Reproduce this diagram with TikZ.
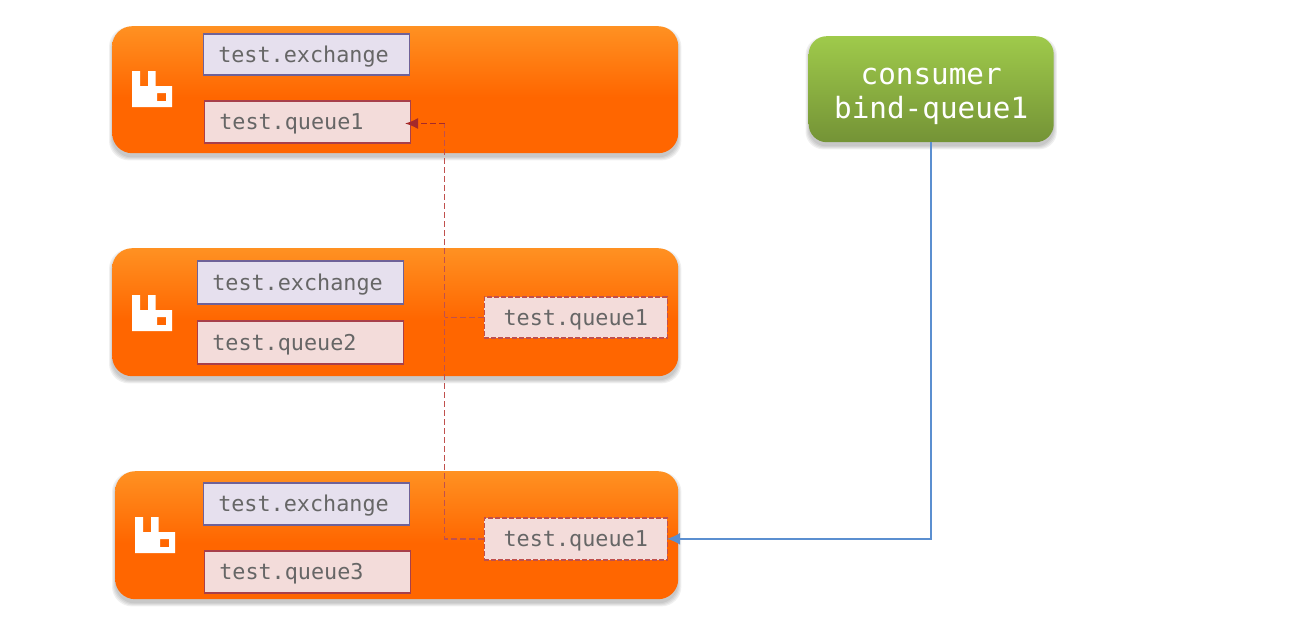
\documentclass[tikz,border=0pt]{standalone}
\usepackage{fontspec}
\setmonofont{DejaVu Sans Mono}
\usetikzlibrary{arrows.meta,backgrounds,calc}
\definecolor{ordark}{HTML}{FF6600}
\definecolor{orlight}{HTML}{FF9122}
\definecolor{grdark}{HTML}{749336}
\definecolor{grlight}{HTML}{9FCA4B}
\pgfdeclareverticalshading{orangeg}{100bp}{color(0bp)=(ordark); color(25bp)=(ordark); color(47bp)=(ordark); color(75bp)=(orlight); color(100bp)=(orlight)}
\pgfdeclareverticalshading{greeng}{100bp}{color(0bp)=(grdark); color(25bp)=(grdark); color(75bp)=(grlight); color(100bp)=(grlight)}
\definecolor{txtgray}{HTML}{666666}
\definecolor{exfill}{HTML}{E6E0EE}
\definecolor{exline}{HTML}{6F6298}
\definecolor{qfill}{HTML}{F3DCDA}
\definecolor{qline}{HTML}{A8404A}
\definecolor{dashline}{HTML}{C0504D}
\definecolor{redtip}{HTML}{A52A2A}
\definecolor{bluel}{HTML}{5B8FD0}
\tikzset{
  panel/.style={rectangle,rounded corners=20pt,shading=orangeg,draw=none,inner sep=0pt,text width=#1},
  labelbox/.style={rectangle,inner ysep=0pt,inner xsep=15pt,text width=176pt,align=left,
    text height=20pt,text depth=4.5pt,
    font=\ttfamily\fontsize{21.8}{26}\selectfont,anchor=north west},
  exbox/.style={labelbox,color=exline,draw,fill=exfill,text=txtgray,line width=1.5pt},
  qbox/.style={labelbox,color=qline,draw,fill=qfill,text=txtgray,line width=1.5pt},
  dashbox/.style={labelbox,inner xsep=0pt,text width=183pt,align=center,color=dashline,draw,fill=qfill,text=txtgray,line width=1.6pt,dash pattern=on 5pt off 2pt},
  consumerbox/.style={rectangle,rounded corners=18pt,shading=greeng,draw=none,align=center,text=white,inner sep=0pt,
    font=\ttfamily\fontsize{29.3}{33.5}\selectfont,anchor=north west},
  redlink/.style={color=dashline,line width=1.6pt,dash pattern=on 6pt off 3pt},
  bluelink/.style={color=bluel,line width=1.6pt},
  rabbit/.style={fill=white,even odd rule},
}
\newcommand{\rabbiticon}[2]{%
  \fill[rabbit,shift={(#1pt,-#2pt)}]
    (0,0) -- (8,0) -- (8,15) -- (16,15) -- (16,0) -- (23.5,0) -- (23.5,15) -- (40,15) -- (40,36) -- (0,36) -- cycle
    (25,22) rectangle (34,30);}
\begin{document}
\begin{tikzpicture}[x=1pt,y=-1pt]
\useasboundingbox (0,0) rectangle (1290,640);
% panels
\node[panel=566pt,minimum height=127pt,anchor=north west] (p1) at (112,26) {};
\node[panel=566pt,minimum height=128pt,anchor=north west] (p2) at (112,248) {};
\node[panel=563pt,minimum height=128pt,anchor=north west] (p3) at (115,471) {};
% rabbit logos
\rabbiticon{132}{71}
\rabbiticon{132}{295}
\rabbiticon{135}{517}
% boxes
\node[exbox,minimum height=41pt] (e1) at (202.5,33) {test.exchange};
\node[qbox,minimum height=42pt] (q1) at (203.5,100) {test.queue1};
\node[exbox,minimum height=43pt] (e2) at (196.5,260) {test.exchange};
\node[qbox,minimum height=43pt] (q2) at (196.5,320) {test.queue2};
\node[dashbox,minimum height=41pt] (d2) at (483.5,296) {test.queue1};
\node[exbox,minimum height=42pt] (e3) at (202.5,482) {test.exchange};
\node[qbox,minimum height=42pt] (q3) at (203.5,550) {test.queue3};
\node[dashbox,minimum height=42pt] (d3) at (483.5,517) {test.queue1};
\node[consumerbox,minimum width=245pt,minimum height=106pt] (c) at (808.5,36) {\rule{0pt}{31pt}consumer\\bind-queue1};
% connectors
\coordinate (bus) at (444.5,123.5);
\coordinate (q1in) at (q1.east |- bus);
\draw[redlink] (d3.west) -- (d3.west -| bus) -- (bus);
\draw[redlink] (d2.west) -- (d2.west -| bus);
\draw[color=redtip,line width=1.6pt,dash pattern=on 6pt off 3pt,-{Latex[length=13pt,width=11pt]},shorten >=-6pt] (bus) -- (q1in);
\draw[bluelink,-{Latex[length=13pt,width=12pt]},shorten >=-1pt] (c.south) |- (d3.east);
% soft shadows
\begin{scope}[on background layer]
\foreach \n/\r in {p1/20,p2/20,p3/20,c/18}{
  \foreach \d in {3,2,1,0}{
    \fill[black,opacity=.06,rounded corners=\r pt]
      ($(\n.north west)+(-\d,4-\d)$) rectangle ($(\n.south east)+(\d,4+\d)$);
  }
}
\end{scope}
\end{tikzpicture}
\end{document}
